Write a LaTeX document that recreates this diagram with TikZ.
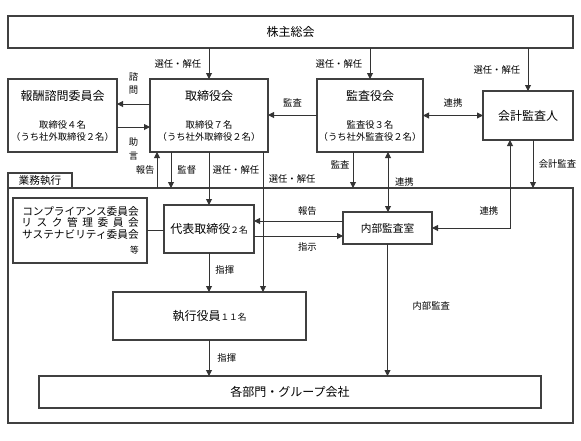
\documentclass[tikz,border=0pt]{standalone}
\usepackage{fontspec}
\setmainfont{Noto Sans CJK JP}
\usetikzlibrary{arrows.meta,positioning}

\tikzset{
  box/.style={draw=black!75,line width=0.8pt,inner sep=0pt,outer sep=0pt,align=center,font=\fontsize{9}{9}\selectfont},
  ln/.style={draw=black!80,line width=0.7pt},
  arr/.style={ln,-{Triangle[length=4.5pt,width=4.5pt]}},
  arrb/.style={ln,{Triangle[length=4.5pt,width=4.5pt]}-{Triangle[length=4.5pt,width=4.5pt]}},
  lbl/.style={font=\fontsize{7}{10}\selectfont,inner sep=1pt,align=center},
}
\newcommand{\subf}{\fontsize{7}{9}\selectfont}
\newcommand{\smallnum}{\fontsize{6.5}{7}\selectfont}

\begin{document}
\begin{tikzpicture}[x=0.75pt,y=0.75pt,yscale=-1,xscale=1]
\useasboundingbox (0,0) rectangle (581,440);

% upper boxes
\node[box,minimum width=423.75pt,minimum height=24pt] (kabunushi) at (290.5,32) {株主総会};
\node[box,minimum width=81.75pt,minimum height=54.75pt] (houshu) at (62.5,115.5)
  {報酬諮問委員会\\[12pt]{\subf 取締役４名}\\{\subf （うち社外取締役２名）}};
\node[box,minimum width=88.5pt,minimum height=54.75pt] (torishimari) at (209,115.5)
  {取締役会\\[12pt]{\subf 取締役７名}\\{\subf （うち社外取締役２名）}};
\node[box,minimum width=79.5pt,minimum height=54.75pt] (kansayaku) at (370,115.5)
  {監査役会\\[12pt]{\subf 監査役３名}\\{\subf （うち社外監査役２名）}};
\node[box,minimum width=67.5pt,minimum height=36.75pt] (kaikei) at (528,115.5) {会計監査人};

% 業務執行 frame
\node[box,minimum width=423.75pt,minimum height=176.25pt] (gyoumu) at (290.5,305.5) {};
\node[box,anchor=south west,minimum width=48pt,minimum height=11.25pt,font=\fontsize{8}{8}\selectfont] (tab) at (8,188) {業務執行};

\node[box,minimum width=100.5pt,minimum height=48.75pt,align=right,font=\fontsize{8}{8.6}\selectfont] (iinkai) at (80,230.5)
  {コンプライアンス委員会\\\makebox[11em]{リ\hfill ス\hfill ク\hfill 管\hfill 理\hfill 委\hfill 員\hfill 会}\\サステナビリティ委員会\\[3pt]{\smallnum 等}};
\node[box,minimum width=67.5pt,minimum height=36pt] (daihyo) at (209,229) {代表取締役{\smallnum ２名}};
\node[box,minimum width=66.75pt,minimum height=24pt,font=\fontsize{8}{8}\selectfont] (naibu) at (387.5,228) {内部監査室};
\node[box,minimum width=144.75pt,minimum height=36pt] (shikkou) at (209.5,316) {執行役員{\smallnum １１名}};
\node[box,minimum width=376.5pt,minimum height=24pt] (kakubumon) at (290,392) {各部門・グループ会社};

% connector positions
\coordinate (xHokoku) at (157,0);
\coordinate (xKantoku) at (171,0);
\coordinate (xSennin) at (263,0);
\coordinate (xKansa) at (353,0);
\coordinate (xRenkei) at (388,0);
\coordinate (xRenkei2) at (510,0);
\coordinate (xKaikei) at (533,0);
\coordinate (yShimon) at (0,104);
\coordinate (yJogen) at (0,127);
\coordinate (yKansa) at (0,115);
\coordinate (yHokoku) at (0,221);
\coordinate (yShiji) at (0,236);
\coordinate (yIinkai) at (0,230);

% from 株主総会
\draw[arr] (kabunushi.south -| torishimari.north) -- node[lbl,left=4.5pt] (sel1) {選任・解任} (torishimari.north);
\draw[arr] (kabunushi.south -| kansayaku.north) -- node[lbl,left=4.5pt] (sel2) {選任・解任} (kansayaku.north);
\draw[arr] (kabunushi.south -| kaikei.north) -- node[lbl,left=4.5pt] (sel3) {選任・解任} (kaikei.north);

% 取締役会 - 報酬諮問委員会
\draw[arr] (torishimari.west |- yShimon) -- node[lbl,above=6pt] (shimon) {諮\\問} (houshu.east |- yShimon);
\draw[arr] (houshu.east |- yJogen) -- node[lbl,below=7pt] (jogen) {助\\言} (torishimari.west |- yJogen);

% 監査役会
\draw[arr] (kansayaku.west |- yKansa) -- node[lbl,above=4.5pt] (kansa1) {監査} (torishimari.east |- yKansa);
\draw[arrb] (kansayaku.east) -- node[lbl,above=4.5pt] (renkei1) {連携} (kaikei.west);

% 取締役会 - 業務執行
\draw[arr] (xHokoku |- gyoumu.north) -- node[lbl,left=0.5pt] (hokoku1) {報告} (xHokoku |- torishimari.south);
\draw[arr] (xKantoku |- torishimari.south) -- node[lbl,right=3.5pt] (kantoku) {監督} (xKantoku |- gyoumu.north);
\draw[arr] (torishimari.south) -- node[lbl,right=1.3pt,pos=0.34] (sel4) {選任・解任} (daihyo.north);
\draw[arr] (xSennin |- torishimari.south) -- node[lbl,right=3pt,pos=0.19] (sel5) {選任・解任} (xSennin |- shikkou.north);

% 監査役会・会計監査人 - 業務執行
\draw[arr] (xKansa |- kansayaku.south) -- node[lbl,left=1.3pt,pos=0.36] (kansa2) {監査} (xKansa |- gyoumu.north);
\draw[arrb] (xRenkei |- kansayaku.south) -- node[lbl,right=4pt] (renkei2) {連携} (xRenkei |- naibu.north);
\draw[arr] (xKaikei |- kaikei.south) -- node[lbl,right=3pt] (kaikeikansa) {会計監査} (xKaikei |- gyoumu.north);
\draw[arrb] (xRenkei2 |- kaikei.south) |- node[lbl,above=8pt,pos=0.635] (renkei3) {連携} (naibu.east);

% 業務執行 inside
\draw[arr] (naibu.west |- yHokoku) -- node[lbl,above=3pt,pos=0.4] (hokoku2) {報告} (daihyo.east |- yHokoku);
\draw[arr] (daihyo.east |- yShiji) -- node[lbl,below=4pt,pos=0.6] (shiji) {指示} (naibu.west |- yShiji);
\draw[ln] (iinkai.east |- yIinkai) -- (daihyo.west |- yIinkai);
\draw[arr] (daihyo.south) -- node[lbl,right=3.5pt,pos=0.44] (shiki1) {指揮} (daihyo.south |- shikkou.north);
\draw[arr] (daihyo.south |- shikkou.south) -- node[lbl,right=5pt] (shiki2) {指揮} (daihyo.south |- kakubumon.north);
\draw[arr] (naibu.south) -- node[lbl,right=17.5pt,pos=0.47] (naibukansa) {内部監査} (naibu.south |- kakubumon.north);

\end{tikzpicture}
\end{document}
